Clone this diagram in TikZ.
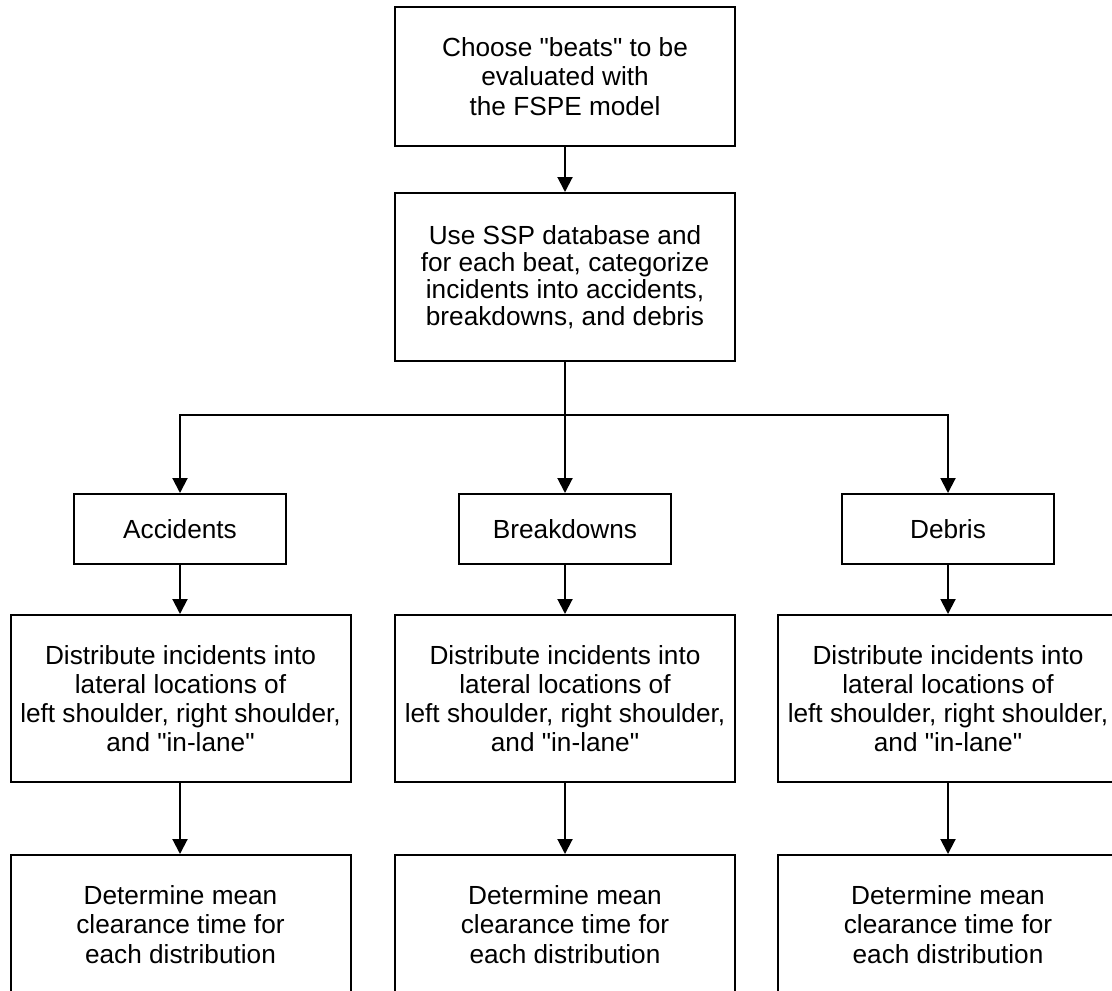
\documentclass[tikz,border=0pt]{standalone}
\usepackage{fontspec}
\setmainfont{Liberation Sans}[Ligatures=TeXOff]
\usetikzlibrary{arrows.meta}
\begin{document}
\begin{tikzpicture}[x=0.5pt,y=-0.5pt,line width=1pt,
	box/.style={draw,align=center,inner sep=0pt,font=\fontsize{13.1}{14.6}\selectfont},
	widebox/.style={box,minimum width=170pt},
	catbox/.style={box,minimum width=106pt,minimum height=35pt},
	arr/.style={-{Triangle[length=7.5pt,width=7.5pt]}}]
	\useasboundingbox (0,0) rectangle (1112,990);
	\clip (0,0) rectangle (1112,990);
	% top of the chart
	\node[widebox,minimum height=69.5pt] (choose) at (565,76.5) {Choose "beats" to be\\evaluated with\\the FSPE model};
	\node[widebox,minimum height=84pt,font=\fontsize{13.1}{13.6}\selectfont] (usessp) at (565,277) {Use SSP database and\\for each beat, categorize\\incidents into accidents,\\breakdowns, and debris};
	\coordinate (split) at (565,415);
	% categories
	\node[catbox] (acc) at (180,529) {Accidents};
	\node[catbox] (brk) at (565,529) {Breakdowns};
	\node[catbox] (deb) at (948,529) {Debris};
	% distributions
	\node[widebox,minimum height=83.5pt] (dista) at (180.5,698.5) {Distribute incidents into\\lateral locations of\\left shoulder, right shoulder,\\and "in-lane"};
	\node[widebox,minimum height=83.5pt] (distb) at (565,698.5) {Distribute incidents into\\lateral locations of\\left shoulder, right shoulder,\\and "in-lane"};
	\node[widebox,minimum height=83.5pt] (distc) at (948,698.5) {Distribute incidents into\\lateral locations of\\left shoulder, right shoulder,\\and "in-lane"};
	% clearance times
	\node[widebox,minimum height=69.5pt] (deta) at (180.5,924.5) {Determine mean\\clearance time for\\each distribution};
	\node[widebox,minimum height=69.5pt] (detb) at (565,924.5) {Determine mean\\clearance time for\\each distribution};
	\node[widebox,minimum height=69.5pt] (detc) at (948,924.5) {Determine mean\\clearance time for\\each distribution};
	% connectors
	\draw[arr] (choose) -- (usessp);
	\draw (usessp) -- (split);
	\draw[arr] (split) -| (acc);
	\draw[arr] (split) -- (brk);
	\draw[arr] (split) -| (deb);
	\draw[arr] (acc) -- (acc|-dista.north);
	\draw[arr] (brk) -- (distb);
	\draw[arr] (deb) -- (deb|-distc.north);
	\draw[arr] (dista.south-|acc) -- (acc|-deta.north);
	\draw[arr] (distb) -- (detb);
	\draw[arr] (distc.south-|deb) -- (deb|-detc.north);
\end{tikzpicture}
\end{document}
